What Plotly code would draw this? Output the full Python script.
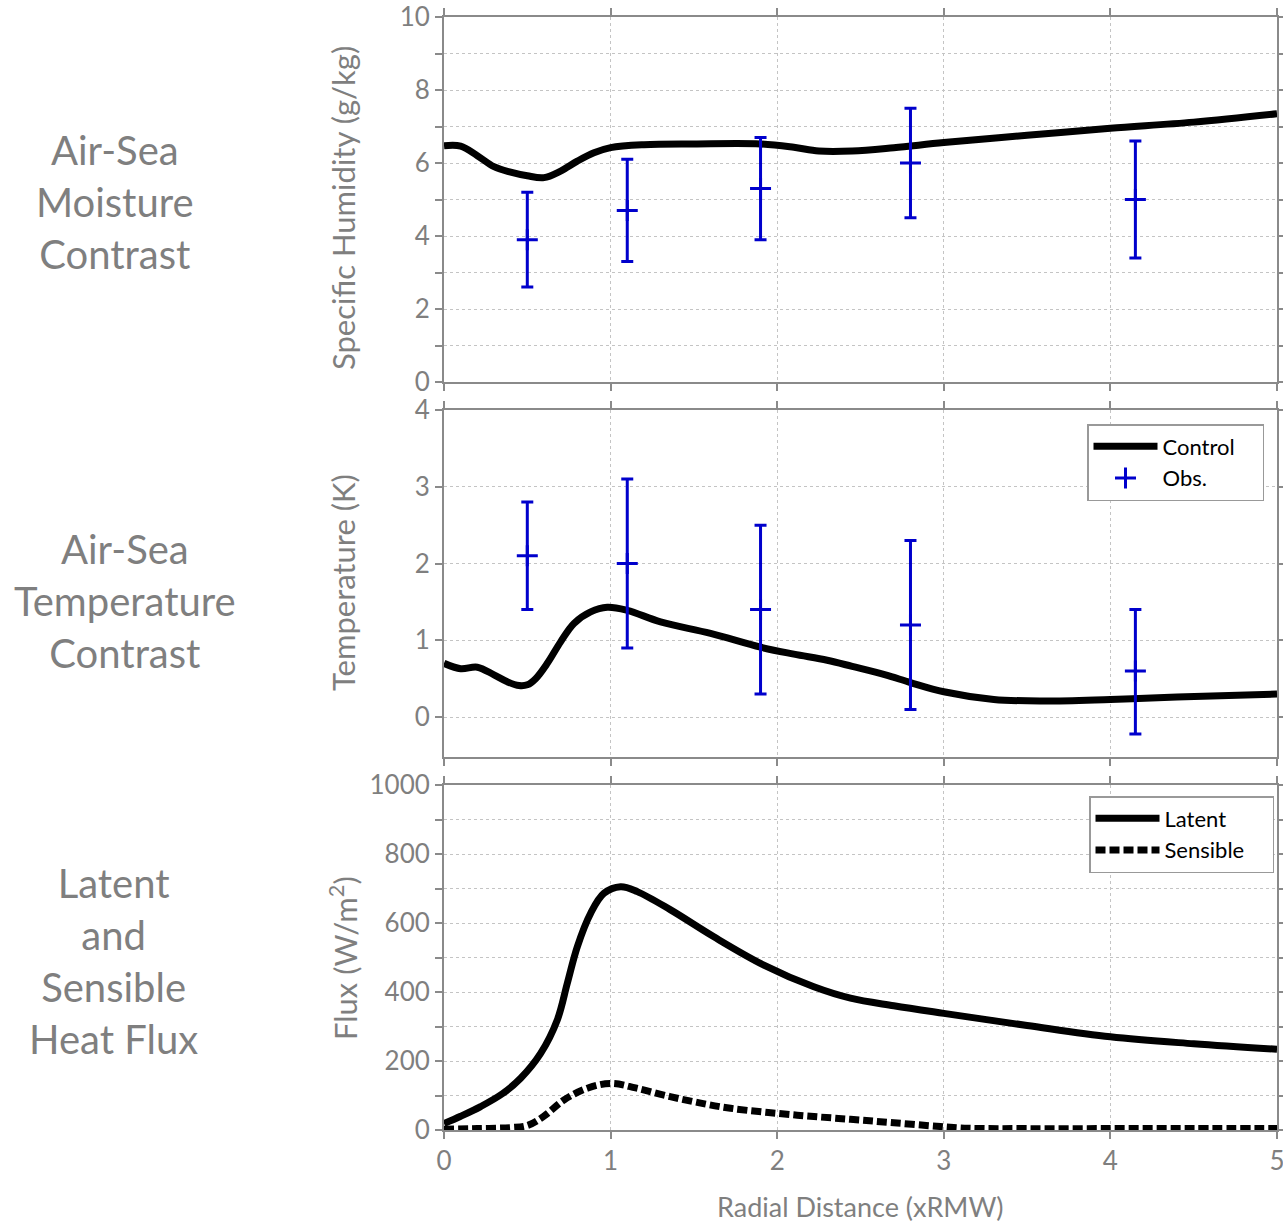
import plotly.graph_objects as go

# ---------------- data ----------------
# Panel 1: specific humidity contrast
hum_x = [0, 0.1, 0.2, 0.3, 0.4, 0.5, 0.6, 0.7, 0.8, 0.9, 1.0, 1.2, 1.5, 1.9, 2.1, 2.25, 2.45, 2.7, 3.0, 3.5, 4.0, 4.5, 5.0]
hum_y = [6.47, 6.46, 6.2, 5.9, 5.75, 5.65, 5.6, 5.78, 6.05, 6.28, 6.42, 6.5, 6.52, 6.52, 6.43, 6.33, 6.33, 6.42, 6.56, 6.76, 6.95, 7.12, 7.35]

obs_x = [0.5, 1.1, 1.9, 2.8, 4.15]
hum_obs = [3.9, 4.7, 5.3, 6.0, 5.0]
hum_obs_hi = [5.2, 6.1, 6.7, 7.5, 6.6]
hum_obs_lo = [2.6, 3.3, 3.9, 4.5, 3.4]

# Panel 2: temperature contrast
tmp_x = [0, 0.1, 0.2, 0.3, 0.38, 0.45, 0.5, 0.55, 0.62, 0.7, 0.78, 0.88, 0.98, 1.1, 1.3, 1.6, 1.9, 2.1, 2.3, 2.45, 2.65, 2.8, 3.0, 3.3, 3.6, 4.0, 4.4, 5.0]
tmp_y = [0.70, 0.63, 0.65, 0.55, 0.46, 0.41, 0.42, 0.50, 0.70, 0.98, 1.22, 1.37, 1.43, 1.39, 1.24, 1.09, 0.91, 0.82, 0.74, 0.66, 0.55, 0.45, 0.33, 0.23, 0.21, 0.23, 0.26, 0.30]

tmp_obs = [2.1, 2.0, 1.4, 1.2, 0.6]
tmp_obs_hi = [2.8, 3.1, 2.5, 2.3, 1.4]
tmp_obs_lo = [1.4, 0.9, 0.3, 0.1, -0.22]

# Panel 3: fluxes
lat_x = [0, 0.1, 0.22, 0.35, 0.46, 0.58, 0.68, 0.74, 0.80, 0.88, 0.96, 1.06, 1.16, 1.36, 1.62, 1.92, 2.22, 2.44, 2.7, 3.0, 3.5, 4.0, 4.5, 5.0]
lat_y = [19, 40, 68, 105, 150, 222, 319, 425, 531, 628, 686, 705, 691, 638, 560, 478, 415, 382, 360, 338, 303, 270, 250, 234]

sen_x = [0, 0.2, 0.4, 0.5, 0.6, 0.72, 0.86, 1.0, 1.15, 1.32, 1.5, 1.72, 2.12, 2.44, 2.7, 2.98, 3.15, 3.5, 4.0, 4.5, 5.0]
sen_y = [2, 4, 7, 13, 40, 87, 121, 135, 122, 101, 82, 63, 43, 31, 21, 10, 5, 4, 4, 4, 4]

legend_names = ["Control", "Obs.", "Latent", "Sensible"]

# ---------------- style ----------------
FONT = "Lato"
GRAY = "#7f7f7f"
AXC = "#8a8a8a"
GRIDC = "#c4c4c4"
BLUE = "#0000CC"
PAD = "\u00a0" * 4

fig = go.Figure()


def err(mean, hi, lo):
    return dict(type="data", symmetric=False,
                array=[h - m for h, m in zip(hi, mean)],
                arrayminus=[m - l for m, l in zip(mean, lo)],
                color=BLUE, thickness=3, width=6)


MK = dict(symbol="cross-thin", size=15, color=BLUE, line=dict(color=BLUE, width=3))

# Panel 1
fig.add_trace(go.Scatter(x=hum_x, y=hum_y, mode="lines", line=dict(color="black", width=7, shape="spline"),
                         showlegend=False, xaxis="x", yaxis="y"))
fig.add_trace(go.Scatter(x=obs_x, y=hum_obs, mode="markers", marker=MK,
                         error_y=err(hum_obs, hum_obs_hi, hum_obs_lo), showlegend=False, xaxis="x", yaxis="y"))

# Panel 2
fig.add_trace(go.Scatter(x=tmp_x, y=tmp_y, mode="lines", name=legend_names[0] + PAD,
                         line=dict(color="black", width=7, shape="spline"),
                         legend="legend", xaxis="x2", yaxis="y2"))
fig.add_trace(go.Scatter(x=obs_x, y=tmp_obs, mode="markers", name=legend_names[1], marker=MK,
                         error_y=err(tmp_obs, tmp_obs_hi, tmp_obs_lo),
                         legend="legend", xaxis="x2", yaxis="y2"))

# Panel 3
fig.add_trace(go.Scatter(x=lat_x, y=lat_y, mode="lines", name=legend_names[2],
                         line=dict(color="black", width=7, shape="spline"),
                         legend="legend2", xaxis="x3", yaxis="y3"))
fig.add_trace(go.Scatter(x=sen_x, y=sen_y, mode="lines", name=legend_names[3] + PAD,
                         line=dict(color="black", width=7, shape="spline", dash="10px,4px"),
                         legend="legend2", xaxis="x3", yaxis="y3"))

FIG_W, FIG_H = 1283, 1222
L = 444
R = FIG_W - 1277
T = 17
B = FIG_H - 1130
H = 1130 - 17
W = 1277 - 444


def dom(top_px, bot_px):
    return [(1130 - bot_px) / H, (1130 - top_px) / H]


def px(x_ref):
    return (x_ref - 444) / W


def py(y_ref):
    return (1130 - y_ref) / H


common_x = dict(range=[0, 5], dtick=1, showgrid=True, gridcolor=GRIDC, griddash="dot", gridwidth=1,
                zeroline=False, showline=True, linecolor=AXC, linewidth=2, mirror="ticks",
                ticks="outside", ticklen=7, tickwidth=1.5, tickcolor=AXC, automargin=False,
                ticklabeloverflow="allow",
                tickfont=dict(family=FONT, size=26, color=GRAY), domain=[0, 1])
common_y = dict(showgrid=True, gridcolor=GRIDC, griddash="dot", gridwidth=1, zeroline=False,
                showline=True, linecolor=AXC, linewidth=2, mirror="ticks", automargin=False,
                ticklabeloverflow="allow",
                ticks="outside", ticklen=7, tickwidth=1.5, tickcolor=AXC,
                tickfont=dict(family=FONT, size=26, color=GRAY))

minor_common = dict(ticks="outside", ticklen=7, tickwidth=1.5, tickcolor=AXC,
                    showgrid=True, gridcolor=GRIDC, griddash="dot", gridwidth=1)

legend_common = dict(xanchor="left", yanchor="top", bgcolor="white", bordercolor="#999999",
                     borderwidth=1.5, font=dict(family=FONT, size=22, color="black"), itemwidth=64)

fig.update_layout(
    width=FIG_W, height=FIG_H,
    margin=dict(l=L, r=R, t=T, b=B, autoexpand=False),
    paper_bgcolor="white", plot_bgcolor="white",
    font=dict(family=FONT, color=GRAY),
    xaxis=dict(common_x, anchor="y", showticklabels=False),
    xaxis2=dict(common_x, anchor="y2", showticklabels=False),
    xaxis3=dict(common_x, anchor="y3", showticklabels=True),
    yaxis=dict(common_y, anchor="x", domain=dom(17, 382), range=[0, 10], dtick=2,
               minor=dict(minor_common, dtick=1)),
    yaxis2=dict(common_y, anchor="x2", domain=dom(410, 757), range=[-0.52, 4], dtick=1,
                tick0=0),
    yaxis3=dict(common_y, anchor="x3", domain=dom(785, 1130), range=[0, 1000], dtick=200,
                minor=dict(minor_common, dtick=100)),
    legend=dict(legend_common, x=px(1087), y=py(424)),
    legend2=dict(legend_common, x=px(1089), y=py(796)),
)


def ytitle(text, y_px):
    fig.add_annotation(text=text, xref="paper", yref="paper", x=px(343), y=py(y_px),
                       xanchor="center", yanchor="middle", textangle=-90, showarrow=False,
                       font=dict(family=FONT, size=31, color=GRAY))


ytitle("Specific Humidity (g/kg)", 208)
ytitle("Temperature (K)", 583)
ytitle("Flux (W/m<sup>2</sup>)", 958)

fig.add_annotation(text="Radial Distance (xRMW)", xref="paper", yref="paper",
                   x=px(860), y=py(1206), xanchor="center", yanchor="middle",
                   showarrow=False, font=dict(family=FONT, size=27, color=GRAY))


def rowlabel(text, x_px, y_px):
    fig.add_annotation(text=text, xref="paper", yref="paper", x=px(x_px), y=py(y_px),
                       xanchor="center", yanchor="middle", showarrow=False, align="center",
                       font=dict(family=FONT, size=40, color=GRAY))


rowlabel("Air-Sea<br>Moisture<br>Contrast", 115, 202)
rowlabel("Air-Sea<br>Temperature<br>Contrast", 125, 601)
rowlabel("Latent<br>and<br>Sensible<br>Heat Flux", 113, 961)

fig.write_html("out.html", config={"displayModeBar": False},
               post_script="document.body.style.margin='0px';document.body.style.overflow='hidden';")
